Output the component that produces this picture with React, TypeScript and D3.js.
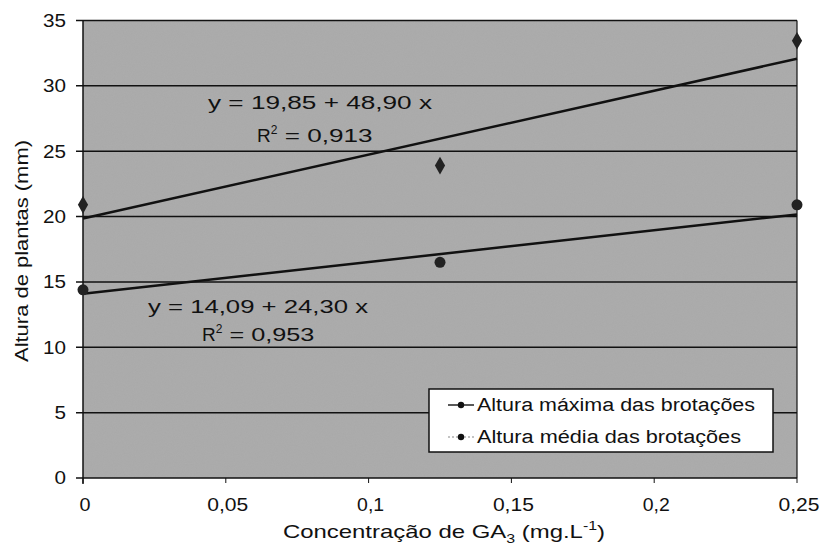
import React from "react";
import * as d3 from "d3";

const concentrations = [0, 0.125, 0.25];
const alturaMaxima = [20.9, 23.9, 33.45];
const alturaMedia = [14.4, 16.5, 20.9];
const yTicks = [0, 5, 10, 15, 20, 25, 30, 35];
const xTicks = [0, 0.05, 0.1, 0.15, 0.2, 0.25];
const fitMax = { a: 19.85, b: 48.9 };
const fitMed = { a: 14.09, b: 24.3 };

const W = 821, H = 555;
const left = 83, right = 797, top = 20.5, bottom = 478;
const font = "Liberation Sans, Arial, sans-serif";

export default function App() {
  const x = d3.scaleLinear().domain([0, 0.25]).range([left, right]);
  const y = d3.scaleLinear().domain([0, 35]).range([bottom, top]);
  const fmt = (v: number) => String(+v.toFixed(2)).replace(".", ",");
  const line = d3.line<[number, number]>().x(d => x(d[0])).y(d => y(d[1]));
  const fitPts = (f: { a: number; b: number }): [number, number][] =>
    [0, 0.25].map(v => [v, f.a + f.b * v] as [number, number]);
  const diamond = d3.symbol().type(d3.symbolDiamond).size(90)();
  const tp = { fontFamily: font, fill: "#111", lengthAdjust: "spacingAndGlyphs" as const };
  return (
    <svg width={W} height={H} style={{ position: "absolute", left: 0, top: 0, background: "#fff" }}>
      <defs>
        <filter id="noise" x="0" y="0" width="100%" height="100%">
          <feTurbulence type="fractalNoise" baseFrequency="0.9" numOctaves="2" seed="3" result="t" />
          <feColorMatrix type="matrix" values="0 0 0 0 0.5  0 0 0 0 0.5  0 0 0 0 0.5  0 0 0 0.35 0" />
        </filter>
      </defs>
      <rect x={left} y={top} width={right - left} height={bottom - top} fill="#a9a9a9" />
      <rect x={left} y={top} width={right - left} height={bottom - top} filter="url(#noise)" opacity={0.6} />
      {yTicks.map(t => (
        <g key={t}>
          <line x1={left - 7} x2={right} y1={y(t)} y2={y(t)} stroke="#111" strokeWidth={1.5} />
          <text x={66} y={y(t)} dy="0.36em" textAnchor="end" fontSize={18} {...tp}
            textLength={String(t).length * 11.5}>{t}</text>
        </g>
      ))}
      <line x1={left} x2={left} y1={top} y2={bottom + 6} stroke="#111" strokeWidth={1.5} />
      <line x1={right} x2={right} y1={top} y2={bottom} stroke="#111" strokeWidth={1.2} />
      {xTicks.map(t => {
        const s = fmt(t);
        const w = s.length === 1 ? 11 : s.length === 3 ? 27 : 41;
        return (
          <g key={t}>
            <line x1={x(t)} x2={x(t)} y1={bottom} y2={bottom + 5} stroke="#111" strokeWidth={1} />
            <text x={x(t) + 2 - w / 2} y={511} fontSize={18} {...tp} textLength={w}>{s}</text>
          </g>
        );
      })}
      <path d={line(fitPts(fitMax)) || ""} stroke="#111" strokeWidth={2.5} fill="none" />
      <path d={line(fitPts(fitMed)) || ""} stroke="#111" strokeWidth={2.5} fill="none" />
      {concentrations.map((c, i) => (
        <path key={"m" + i} d={diamond || ""} transform={`translate(${x(c)},${y(alturaMaxima[i])})`} fill="#222" />
      ))}
      {concentrations.map((c, i) => (
        <circle key={"d" + i} cx={x(c)} cy={y(alturaMedia[i])} r={5.5} fill="#222" />
      ))}
      <text x={208} y={109} fontSize={19} {...tp} textLength={224}>y = 19,85 + 48,90 x</text>
      <text x={257} y={142} fontSize={19} {...tp}>R<tspan dy={-8} fontSize={12}>2</tspan><tspan dy={8} textLength={95} lengthAdjust="spacingAndGlyphs"> = 0,913</tspan></text>
      <text x={148} y={313} fontSize={19} {...tp} textLength={220}>y = 14,09 + 24,30 x</text>
      <text x={202} y={341} fontSize={19} {...tp}>R<tspan dy={-8} fontSize={12}>2</tspan><tspan dy={8} textLength={92} lengthAdjust="spacingAndGlyphs"> = 0,953</tspan></text>
      <rect x={429} y={389} width={344} height={63} fill="#fff" stroke="#111" strokeWidth={1.5} />
      <line x1={448} x2={474} y1={405} y2={405} stroke="#222" strokeWidth={1.5} />
      <circle cx={461} cy={405} r={3.2} fill="#111" />
      <text x={477} y={405} dy="0.36em" fontSize={18} {...tp} textLength={278}>Altura máxima das brotações</text>
      <line x1={448} x2={474} y1={437} y2={437} stroke="#888" strokeWidth={1.2} strokeDasharray="2,2" />
      <circle cx={461} cy={437} r={3.2} fill="#111" />
      <text x={477} y={437} dy="0.36em" fontSize={18} {...tp} textLength={264}>Altura média das brotações</text>
      <g transform="translate(444,538) scale(1.33,1)">
        <text x={0} y={0} textAnchor="middle" fontSize={18} fontFamily={font} fill="#111">
          Concentração de GA<tspan dy={5} fontSize={12}>3</tspan><tspan dy={-5}> (mg.L</tspan><tspan dy={-8} fontSize={12}>-1</tspan><tspan dy={8}>)</tspan>
        </text>
      </g>
      <text transform={`translate(28,251) rotate(-90)`} textAnchor="middle" fontSize={19} {...tp} textLength={222}>Altura de plantas (mm)</text>
    </svg>
  );
}
